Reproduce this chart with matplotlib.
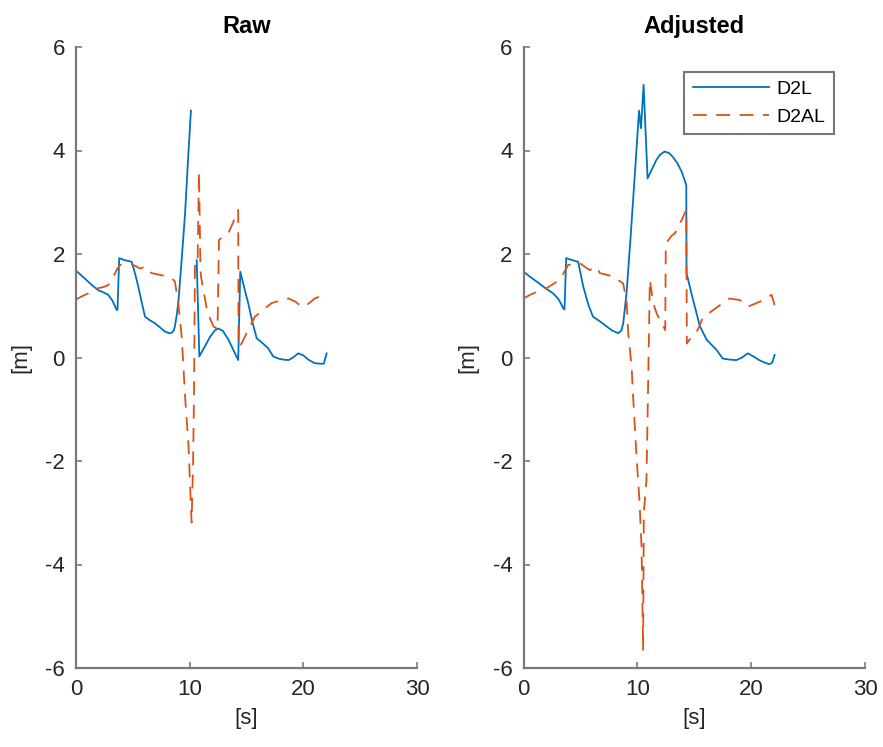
import numpy as np
import matplotlib
matplotlib.use("Agg")
import matplotlib.pyplot as plt

plt.rcParams['font.family'] = ['Liberation Sans', 'DejaVu Sans']
plt.rcParams['axes.unicode_minus'] = False

# ---------------- data ----------------
raw_t_d2l = [0.0, 0.5, 1.0, 1.5, 1.96, 2.4, 2.84, 3.2, 3.58, 3.65, 3.8, 4.3, 4.9, 5.2, 5.48, 5.8,
             6.07, 6.5, 6.95, 7.4, 7.83, 8.2, 8.42, 8.6, 8.7, 8.85, 9.0, 9.3, 9.6, 9.85, 10.11,
             10.3, 10.62, 10.85, 11.3, 11.8, 12.2, 12.5, 12.9, 13.4, 13.9, 14.27, 14.45, 14.8,
             15.15, 15.5, 15.9, 16.4, 16.9, 17.35, 17.8, 18.2, 18.7, 19.1, 19.55, 20.0, 20.5,
             21.0, 21.5, 21.8, 22.05]
raw_d2l = [1.68, 1.58, 1.48, 1.38, 1.30, 1.26, 1.21, 1.10, 0.92, 0.92, 1.92, 1.88, 1.85, 1.62, 1.37, 1.05,
           0.79, 0.72, 0.66, 0.58, 0.50, 0.47, 0.48, 0.52, 0.60, 0.80, 1.05, 1.90, 2.80, 3.80, 4.77,
           np.nan, 1.88, 0.02, 0.20, 0.40, 0.52, 0.56, 0.52, 0.35, 0.12, -0.05, 1.66, 1.35,
           1.05, 0.70, 0.37, 0.28, 0.18, 0.02, -0.02, -0.04, -0.05, 0.00, 0.08, 0.04, -0.05,
           -0.11, -0.12, -0.12, 0.08]

raw_t_d2al = [0.0, 0.5, 1.08, 1.5, 1.96, 2.4, 2.84, 3.28, 3.6, 3.87, 4.4, 4.9, 5.3, 5.63, 5.9, 6.2,
              6.4, 6.66, 7.1, 7.54, 8.0, 8.42, 8.7, 9.0, 9.3, 9.6, 9.9, 10.17, 10.3, 10.38, 10.47,
              10.7, 10.82, 10.95, 11.0, 11.5, 11.8, 12.1, 12.45, 12.58, 13.0, 13.4, 13.8, 14.27,
              14.3, 14.57, 15.15, 15.74, 16.33, 16.8, 17.2, 18.1, 18.7, 19.3, 19.85, 20.4, 21.0,
              21.6, 21.9, 22.05]
raw_d2al = [1.12, 1.18, 1.24, 1.30, 1.34, 1.36, 1.40, 1.56, 1.70, 1.79, 1.80, 1.80, 1.76, 1.72, 1.74, 1.75,
            1.68, 1.63, 1.61, 1.59, 1.56, 1.53, 1.47, 1.05, 0.40, -0.76, -1.72, -3.19, -2.04, -0.76, 1.88,
            1.88, 3.59, 1.70, 1.56, 0.95, 0.75, 0.60, 0.55, 2.27, 2.35, 2.40, 2.60, 2.85,
            0.21, 0.27, 0.53, 0.79, 0.89, 0.98, 1.05, 1.11, 1.14, 1.08, 0.98, 1.03, 1.14,
            1.19, 1.14, 1.16]

adj_t_d2l = [0.0, 0.57, 1.2, 1.74, 2.2, 2.6, 3.1, 3.5, 3.6, 3.75, 4.3, 4.8, 5.25, 5.7, 6.1, 6.7,
             7.3, 7.8, 8.32, 8.6, 8.76, 9.05, 9.4, 9.8, 10.15, 10.32, 10.55, 10.9, 11.2, 11.68,
             12.0, 12.4, 12.8, 13.1, 13.5, 13.9, 14.3, 14.32, 14.9, 15.5, 16.1, 16.5, 16.95,
             17.5, 18.1, 18.7, 19.2, 19.7, 20.2, 20.7, 21.2, 21.6, 21.85, 22.06]
adj_d2l = [1.66, 1.56, 1.46, 1.37, 1.30, 1.24, 1.12, 0.95, 0.93, 1.92, 1.88, 1.85, 1.37, 1.02, 0.79, 0.70,
           0.60, 0.52, 0.47, 0.52, 0.66, 1.24, 2.30, 3.60, 4.77, 4.43, 5.27, 3.46, 3.60, 3.82,
           3.92, 3.98, 3.95, 3.88, 3.76, 3.59, 3.33, 1.63, 1.11, 0.60, 0.34, 0.25, 0.15,
           -0.02, -0.04, -0.05, 0.00, 0.08, 0.02, -0.05, -0.10, -0.13, -0.10, 0.05]

adj_t_d2al = [0.0, 0.57, 1.3, 2.03, 2.9, 3.35, 3.93, 4.5, 4.96, 5.4, 5.83, 6.1, 6.42, 6.7, 7.3, 7.88,
              8.3, 8.75, 9.05, 9.2, 9.5, 9.63, 9.93, 10.2, 10.37, 10.51, 10.57, 10.8, 10.95, 11.1,
              11.4, 11.7, 12.0, 12.45, 12.5, 13.0, 13.3, 13.9, 14.3, 14.35, 14.6, 15.3, 15.8,
              16.5, 17.5, 18.1, 19.0, 19.7, 20.45, 21.0, 21.8, 22.06]
adj_d2al = [1.14, 1.21, 1.28, 1.34, 1.46, 1.56, 1.79, 1.80, 1.82, 1.75, 1.69, 1.72, 1.75, 1.63, 1.60, 1.56,
            1.50, 1.43, 1.11, 0.47, -0.18, -0.76, -1.92, -2.82, -3.66, -5.65, -3.00, -2.37, -0.50, 1.50,
            1.05, 0.85, 0.72, 0.53, 2.20, 2.35, 2.40, 2.66, 2.85, 0.27, 0.35, 0.53, 0.79,
            0.89, 1.05, 1.14, 1.11, 0.98, 1.05, 1.10, 1.21, 1.01]

titles = ["Raw", "Adjusted"]
series_names = ["D2L", "D2AL"]
x_ticks = [0, 10, 20, 30]
y_ticks = [-6, -4, -2, 0, 2, 4, 6]

# ---------------- figure ----------------
W, H = 883, 747
fig = plt.figure(figsize=(W / 100, H / 100), dpi=100)
blue = '#0072BD'
orange = '#D95319'
spine_c = '#7a7a7a'
text_c = '#262626'

ax_specs = [
    (76 / W, (H - 668) / H, 341 / W, 621 / H),
    (523.5 / W, (H - 668) / H, 341.5 / W, 621 / H),
]
data = [
    (raw_t_d2l, raw_d2l, raw_t_d2al, raw_d2al),
    (adj_t_d2l, adj_d2l, adj_t_d2al, adj_d2al),
]

for i, (spec, (t1, y1, t2, y2)) in enumerate(zip(ax_specs, data)):
    ax = fig.add_axes(spec)
    ax.plot(t1, y1, color=blue, lw=1.3, label=series_names[0])
    ax.plot(t2, y2, color=orange, lw=1.3, linestyle=(0, (7.7, 5.2)), label=series_names[1])
    ax.set_xlim(0, 30)
    ax.set_ylim(-6, 6)
    ax.set_xticks(x_ticks)
    ax.set_yticks(y_ticks)
    for s in ['top', 'right']:
        ax.spines[s].set_visible(False)
    for s in ['left', 'bottom']:
        ax.spines[s].set_color(spine_c)
        ax.spines[s].set_linewidth(1.6)
    ax.tick_params(direction='in', length=4, width=1.2, color=spine_c,
                   labelsize=16, labelcolor=text_c, pad=8)
    ax.set_title(titles[i], fontsize=17, fontweight='bold', color='black', pad=10)
    ax.set_xlabel('[s]', fontsize=16, color=text_c, labelpad=6)
    ax.set_ylabel('[m]', fontsize=16, color=text_c, labelpad=10)
    if i == 1:
        leg = ax.legend(loc='upper right', bbox_to_anchor=(0.91, 0.96), fontsize=14,
                        fancybox=False, frameon=True, handlelength=3.9,
                        borderpad=0.45, labelspacing=0.5, handletextpad=0.4,
                        borderaxespad=0)
        leg.get_frame().set_edgecolor('#555555')
        leg.get_frame().set_linewidth(1.5)
        for txt in leg.get_texts():
            txt.set_color('black')

fig.savefig('out.png', dpi=100, facecolor='white')
